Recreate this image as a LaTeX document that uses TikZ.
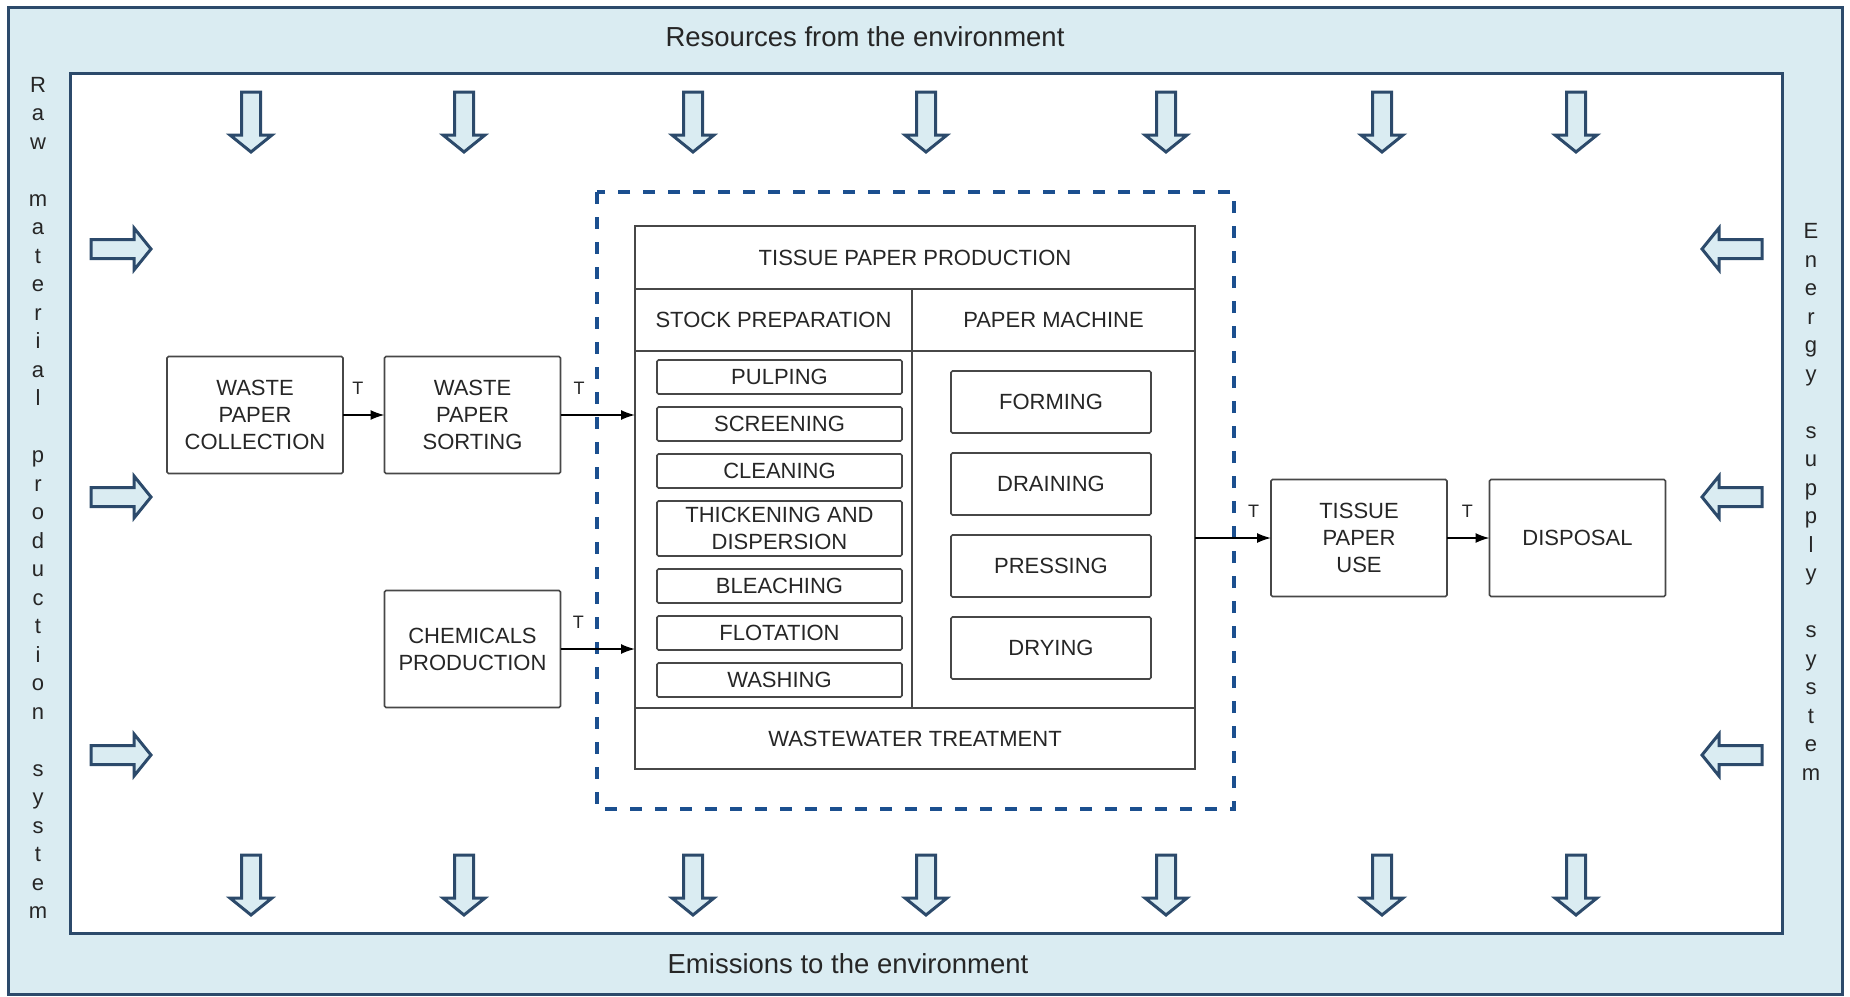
\documentclass[tikz,border=0pt]{standalone}
\usepackage{fontspec}
\setmainfont{Liberation Sans}
\usetikzlibrary{positioning, arrows.meta}

\definecolor{panel}{HTML}{DAECF2}
\definecolor{navy}{HTML}{2C4A6B}
\definecolor{bound}{HTML}{1B4F8F}
\definecolor{ink}{HTML}{262626}

\begin{document}
\begin{tikzpicture}[x=1pt,y=-1pt,>={Latex[length=14pt,width=10pt]},
    box/.style={draw=ink!85, line width=1.6pt, rounded corners=1.5pt, inner sep=0pt, outer sep=0pt,
      align=center, text=ink, font=\fontsize{22}{27}\selectfont},
    unit/.style={box, minimum width=176pt, minimum height=117pt},
    cell/.style={box, rounded corners=0pt},
    stepbox/.style={box, minimum width=245pt, minimum height=34pt},
    machbox/.style={box, minimum width=200pt, minimum height=62pt},
    flow/.style={->, line width=1.6pt},
    tlab/.style={font=\fontsize{18}{18}\selectfont, text=ink, yshift=27pt, inner sep=0pt},
    envlab/.style={font=\fontsize{27.5}{32}\selectfont, text=ink},
    stack/.style={font=\fontsize{22}{28.5}\selectfont, align=center, text=ink, inner sep=0pt},
    flowdown/.pic={\draw[navy, line width=3pt, fill=panel] (-9.5,0) -- (9.5,0) -- (9.5,43) -- (21,43)
      -- (0,60) -- (-21,43) -- (-9.5,43) -- cycle;}]
  \useasboundingbox (0,0) rectangle (1850,996);

  % environment frame
  \draw[navy, line width=3pt, fill=panel] (8,7) rectangle (1842,994);
  \draw[navy, line width=3pt, fill=white] (70,73) rectangle (1782,933);
  \node[envlab] (res) at (865,37) {Resources from the environment};
  \node[envlab] (emi) at (848,964) {Emissions to the environment};
  \node[stack] (raw) at (38,498) {R\\a\\w\\~\\m\\a\\t\\e\\r\\i\\a\\l\\~\\p\\r\\o\\d\\u\\c\\t\\i\\o\\n\\~\\s\\y\\s\\t\\e\\m};
  \node[stack] (energy) at (1811,502) {E\\n\\e\\r\\g\\y\\~\\s\\u\\p\\p\\l\\y\\~\\s\\y\\s\\t\\e\\m};

  \foreach \x in {251,464,693,926,1166,1382,1576}{
    \pic at (\x,92) {flowdown};
    \pic at (\x,855) {flowdown};
  }
  \foreach \y in {249,497,755}{
    \pic[rotate=90] at (91,\y) {flowdown};
    \pic[rotate=-90] at (1762,\y) {flowdown};
  }

  % system boundary
  \draw[bound, line width=4pt, dash pattern=on 12pt off 13pt] (597,192) rectangle (1234,809);

  % tissue paper production
  \node[cell, minimum width=560pt, minimum height=63pt] (tpp) at (915,257.5) {TISSUE PAPER PRODUCTION};
  \node[cell, minimum width=277pt, minimum height=62pt, below right=0pt of tpp.south west] (stockhead) {STOCK PREPARATION};
  \node[cell, minimum width=283pt, minimum height=62pt, right=0pt of stockhead] (machhead) {PAPER MACHINE};
  \node[cell, minimum width=277pt, minimum height=357pt, below=0pt of stockhead] (stockbody) {};
  \node[cell, minimum width=283pt, minimum height=357pt, below=0pt of machhead] (machbody) {};
  \node[cell, minimum width=560pt, minimum height=61pt, below right=0pt of stockbody.south west] (wwt) {WASTEWATER TREATMENT};

  \node[stepbox] (pulp) at (779.5,377) {PULPING};
  \node[stepbox, below=13pt of pulp] (screen) {SCREENING};
  \node[stepbox, below=13pt of screen] (clean) {CLEANING};
  \node[stepbox, minimum height=55pt, below=13pt of clean] (thick) {THICKENING AND\\DISPERSION};
  \node[stepbox, below=13pt of thick] (bleach) {BLEACHING};
  \node[stepbox, below=13pt of bleach] (flot) {FLOTATION};
  \node[stepbox, below=13pt of flot] (wash) {WASHING};

  \node[machbox] (form) at (1051,402) {FORMING};
  \node[machbox, below=20pt of form] (drain) {DRAINING};
  \node[machbox, below=20pt of drain] (press) {PRESSING};
  \node[machbox, below=20pt of press] (dry) {DRYING};

  % life cycle stages
  \node[unit] (collect) at (255,415) {WASTE\\PAPER\\COLLECTION};
  \node[unit] (sort) at (472.5,415) {WASTE\\PAPER\\SORTING};
  \node[unit] (chem) at (472.5,649) {CHEMICALS\\PRODUCTION};
  \node[unit] (use) at (1359,538) {TISSUE\\PAPER\\USE};
  \node[unit] (disp) at (1577.5,538) {DISPOSAL};

  \draw[flow] (collect) -- node[tlab, pos=0.36] {T} (sort);
  \draw[flow] (sort) -- node[tlab, pos=0.25] {T} (sort -| stockbody.west);
  \draw[flow] (chem) -- node[tlab, pos=0.24] {T} (chem -| stockbody.west);
  \draw[flow] (machbody.east |- use) -- node[tlab, pos=0.77] {T} (use);
  \draw[flow] (use) -- node[tlab, pos=0.48] {T} (disp);
\end{tikzpicture}
\end{document}
